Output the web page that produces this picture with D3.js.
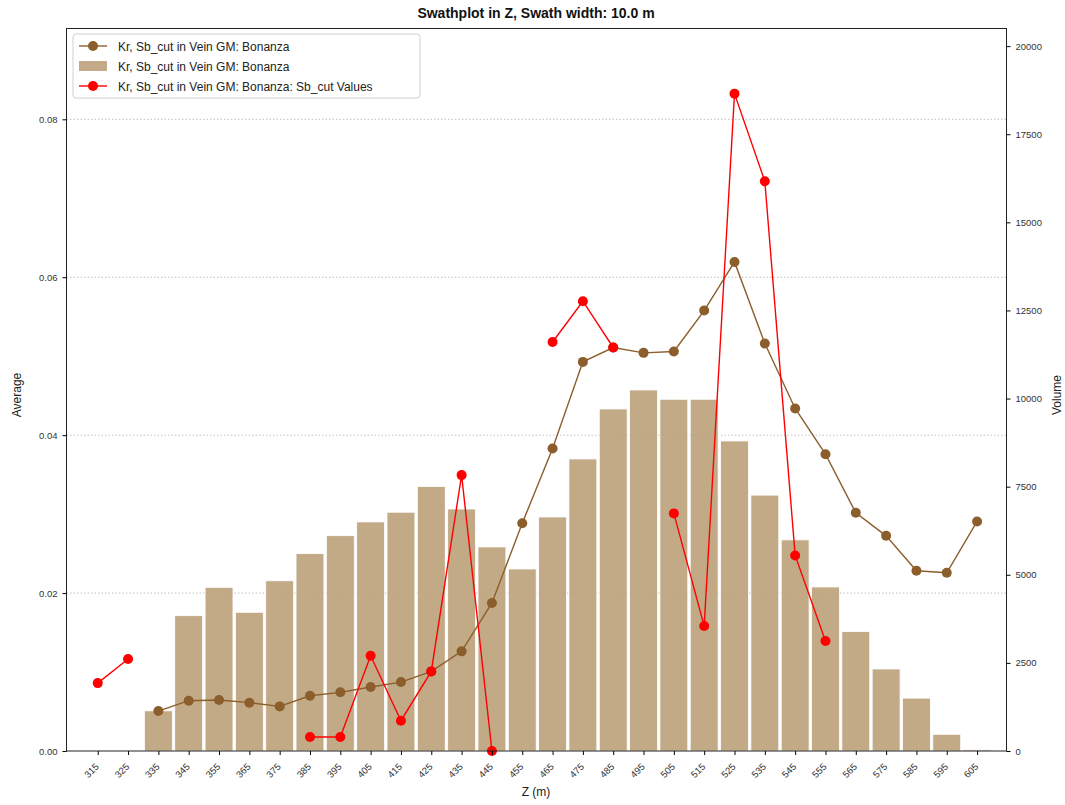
<!DOCTYPE html>
<html><head><meta charset="utf-8">
<script src="https://cdn.jsdelivr.net/npm/d3@7"></script>
<style>body{margin:0;background:#fff}svg{display:block;font-family:"Liberation Sans",Arial,Helvetica,sans-serif}</style>
</head><body><svg id="c" width="1065" height="805"></svg>
<script>
const zValues = [315,325,335,345,355,365,375,385,395,405,415,425,435,445,455,465,475,485,495,505,515,525,535,545,555,565,575,585,595,605];
const volume = [0,0,1140,3840,4645,3935,4830,5600,6110,6500,6775,7505,6867,5790,5165,6640,8286,9705,10244,9980,9980,8797,7260,5990,4654,3390,2327,1500,474,35];
const average = [null,null,0.00506,0.00637,0.00646,0.00612,0.00565,0.0070,0.00743,0.0081,0.00873,0.01008,0.01262,0.01875,0.02884,0.03831,0.04928,0.0511,0.05042,0.0506,0.05578,0.06194,0.0516,0.04338,0.03759,0.03017,0.02725,0.02282,0.02257,0.02907];
const sbValues = [0.0086,0.01165,null,null,null,null,null,0.00177,0.00177,0.01207,0.00384,0.01008,0.03494,0.0,null,0.0518,0.05696,0.0511,null,0.03009,0.01582,0.08325,0.07215,0.02477,0.01392,null,null,null,null,null];
const leftTicks = [0,0.02,0.04,0.06,0.08];
const rightTicks = [0,2500,5000,7500,10000,12500,15000,17500,20000];
const legendLabels = ["Kr, Sb_cut in Vein GM: Bonanza","Kr, Sb_cut in Vein GM: Bonanza","Kr, Sb_cut in Vein GM: Bonanza: Sb_cut Values"];

const svg = d3.select("#c");
const L=66.5, R=1006.5, T=28.5, B=751;
const x = d3.scaleLinear().domain([304.7,614.7]).range([L,R]);
const yL = d3.scaleLinear().domain([0,0.0915]).range([B,T]);
const yR = d3.scaleLinear().domain([0,20500]).range([B,T]);
const brown="#8b5e2b", red="#ff0000", barCol="#bda17b";

// grid
svg.append("g").selectAll("line").data(leftTicks.filter(d=>d>0)).join("line")
  .attr("x1",L).attr("x2",R).attr("y1",d=>yL(d)).attr("y2",d=>yL(d))
  .attr("stroke","#b0b0b0").attr("stroke-width",0.8).attr("stroke-dasharray","1.5,2");

// bars
svg.append("g").selectAll("rect").data(zValues.map((z,i)=>({z,v:volume[i]})).filter(d=>d.v>0)).join("rect")
  .attr("x",d=>x(d.z-4.6)).attr("width",d=>x(d.z+4.6)-x(d.z-4.6))
  .attr("y",d=>yR(d.v)).attr("height",d=>B-yR(d.v))
  .attr("fill",barCol).attr("opacity",0.9).attr("stroke","#fff").attr("stroke-width",0.8);

// brown line
const avgData = zValues.map((z,i)=>({z,v:average[i]}));
const line = d3.line().defined(d=>d.v!==null).x(d=>x(d.z)).y(d=>yL(d.v));
svg.append("path").datum(avgData).attr("d",line).attr("fill","none").attr("stroke",brown).attr("stroke-width",1.4);
svg.append("g").selectAll("circle").data(avgData.filter(d=>d.v!==null)).join("circle")
  .attr("cx",d=>x(d.z)).attr("cy",d=>yL(d.v)).attr("r",5).attr("fill",brown);

// red line
const sbData = zValues.map((z,i)=>({z,v:sbValues[i]}));
svg.append("path").datum(sbData).attr("d",line).attr("fill","none").attr("stroke",red).attr("stroke-width",1.4);
svg.append("g").selectAll("circle").data(sbData.filter(d=>d.v!==null)).join("circle")
  .attr("cx",d=>x(d.z)).attr("cy",d=>yL(d.v)).attr("r",5).attr("fill",red);

// frame
svg.append("rect").attr("x",L).attr("y",T).attr("width",R-L).attr("height",B-T)
  .attr("fill","none").attr("stroke","#222").attr("stroke-width",1);

// left axis
const gl = svg.append("g").attr("transform",`translate(${L},0)`)
  .call(d3.axisLeft(yL).tickValues(leftTicks).tickFormat(d3.format(".2f")).tickSize(4).tickPadding(5));
gl.select(".domain").remove();
gl.selectAll("text").attr("font-size",9.5).attr("fill","#333").attr("font-family","Liberation Sans, Arial, sans-serif");
// right axis
const gr = svg.append("g").attr("transform",`translate(${R},0)`)
  .call(d3.axisRight(yR).tickValues(rightTicks).tickFormat(d3.format("d")).tickSize(4).tickPadding(5));
gr.select(".domain").remove();
gr.selectAll("text").attr("font-size",9.5).attr("fill","#333").attr("font-family","Liberation Sans, Arial, sans-serif");
// bottom axis
const gb = svg.append("g").attr("transform",`translate(0,${B})`)
  .call(d3.axisBottom(x).tickValues(zValues).tickFormat(d3.format("d")).tickSize(4).tickPadding(4));
gb.select(".domain").remove();
gb.selectAll("text").attr("font-size",9.5).attr("fill","#333").attr("font-family","Liberation Sans, Arial, sans-serif")
  .attr("text-anchor","end").attr("x",0).attr("y",0).attr("dx",0).attr("dy","0.35em")
  .attr("transform","translate(-1,14) rotate(-45)");

// labels
svg.append("text").attr("x",536).attr("y",18).attr("text-anchor","middle").attr("font-size",14).attr("font-weight","bold").attr("fill","#111").text("Swathplot in Z, Swath width: 10.0 m");
svg.append("text").attr("x",536).attr("y",796).attr("text-anchor","middle").attr("font-size",12).attr("fill","#222").text("Z (m)");
svg.append("text").attr("transform","translate(21,395) rotate(-90)").attr("text-anchor","middle").attr("font-size",12).attr("fill","#222").text("Average");
svg.append("text").attr("transform","translate(1061,395) rotate(-90)").attr("text-anchor","middle").attr("font-size",12).attr("fill","#222").text("Volume");

// legend
const lg = svg.append("g");
lg.append("rect").attr("x",73).attr("y",34).attr("width",347).attr("height",64).attr("rx",3)
  .attr("fill","#fff").attr("fill-opacity",0.85).attr("stroke","#d0d0d0");
const ly=[46,66,86];
lg.append("line").attr("x1",79).attr("x2",107).attr("y1",ly[0]).attr("y2",ly[0]).attr("stroke",brown).attr("stroke-width",1.4);
lg.append("circle").attr("cx",93).attr("cy",ly[0]).attr("r",5).attr("fill",brown);
lg.append("rect").attr("x",79).attr("y",ly[1]-5).attr("width",28).attr("height",10).attr("fill",barCol).attr("opacity",0.9);
lg.append("line").attr("x1",79).attr("x2",107).attr("y1",ly[2]).attr("y2",ly[2]).attr("stroke",red).attr("stroke-width",1.4);
lg.append("circle").attr("cx",93).attr("cy",ly[2]).attr("r",5).attr("fill",red);
lg.selectAll("text.l").data(legendLabels).join("text").attr("class","l")
  .attr("x",118).attr("y",(d,i)=>ly[i]+4.5).attr("font-size",12).attr("fill","#222").text(d=>d);
</script></body></html>
